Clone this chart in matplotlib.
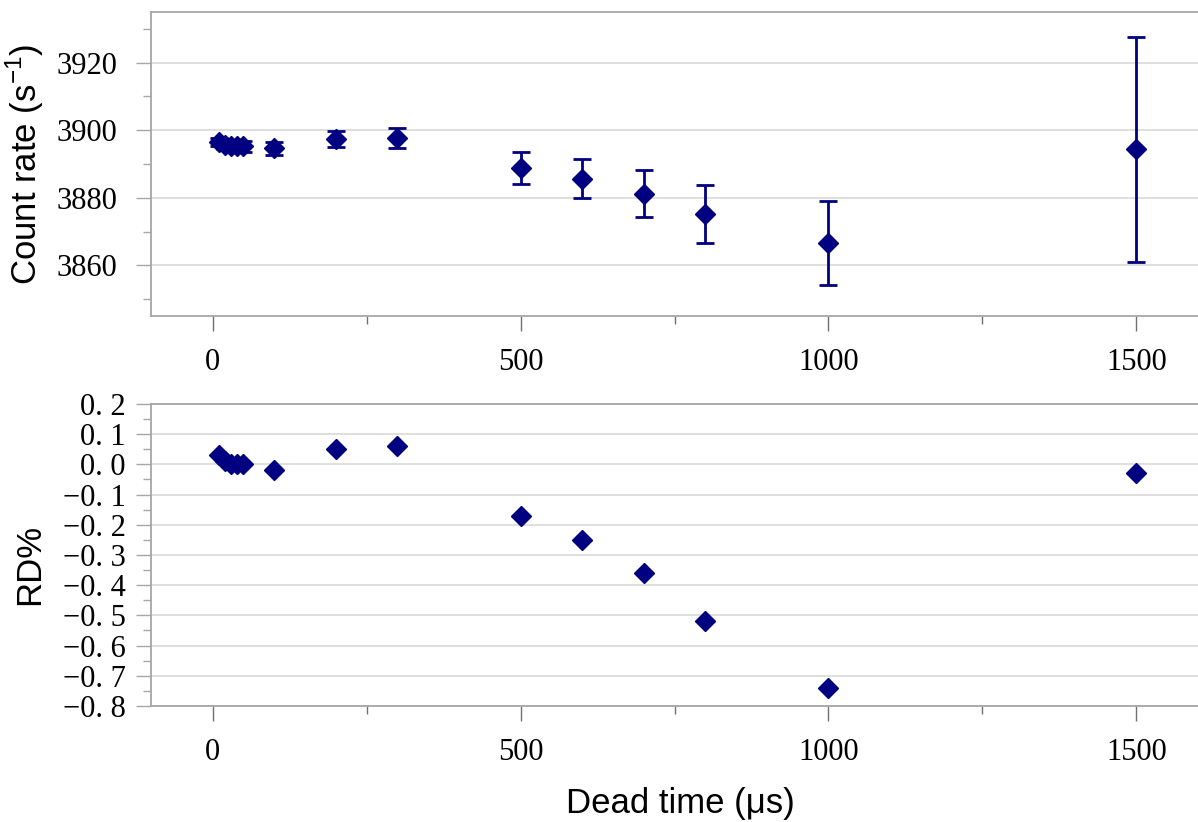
import matplotlib
matplotlib.use("Agg")
import matplotlib.pyplot as plt
from matplotlib.ticker import MultipleLocator, FixedLocator

# ---- data ----
dead_time = [10, 20, 30, 40, 50, 100, 200, 300, 500, 600, 700, 800, 1000, 1500]
count_rate = [3896.6, 3895.6, 3895.2, 3895.4, 3895.3, 3894.6, 3897.4, 3897.7,
              3888.8, 3885.7, 3881.2, 3875.2, 3866.7, 3894.3]
count_err = [1.2, 1.3, 1.4, 1.5, 1.6, 1.9, 2.4, 3.0,
             4.7, 5.9, 7.0, 8.5, 12.4, 33.2]
rd_pct = [0.03, 0.01, 0.00, 0.00, 0.00, -0.02, 0.05, 0.06,
          -0.17, -0.25, -0.36, -0.52, -0.74, -0.03]

x_ticks = [0, 500, 1000, 1500]
top_yticks = [3860, 3880, 3900, 3920]
rd_ticks = [0.2, 0.1, 0.0, -0.1, -0.2, -0.3, -0.4, -0.5, -0.6, -0.7, -0.8]
rd_labels = ["0. 2", "0. 1", "0. 0", "\u22120. 1", "\u22120. 2", "\u22120. 3",
             "\u22120. 4", "\u22120. 5", "\u22120. 6", "\u22120. 7", "\u22120. 8"]

# ---- style ----
navy = "#000080"
spine_c = "#a6a6a6"
grid_c = "#d9d9d9"
tick_font = dict(family="Liberation Serif", size=22)
label_font = dict(family="Liberation Sans", size=25)

fig = plt.figure(figsize=(11.98, 8.22), dpi=100)
W, H = 1198, 822
ax1 = fig.add_axes([151 / W, 1 - 316 / H, (W - 151) / W, (316 - 12) / H])
ax2 = fig.add_axes([151 / W, 1 - 706 / H, (W - 151) / W, (706 - 404) / H])

for ax in (ax1, ax2):
    ax.set_xlim(-100, 1600)
    ax.xaxis.set_major_locator(FixedLocator(x_ticks))
    ax.xaxis.set_minor_locator(MultipleLocator(250))
    ax.set_xticklabels([str(v) for v in x_ticks], fontdict=tick_font)
    ax.spines["right"].set_visible(False)
    for s in ("left", "bottom", "top"):
        ax.spines[s].set_color(spine_c)
        ax.spines[s].set_linewidth(1.3)
    ax.grid(axis="y", which="major", color=grid_c, linewidth=1.2, zorder=0)
    ax.set_axisbelow(True)
    ax.tick_params(axis="x", which="major", length=11, width=1.0, color="#707070", pad=12)
    ax.tick_params(axis="x", which="minor", length=6, width=1.0, color="#707070")
    ax.tick_params(axis="y", which="major", length=11, width=1.0, color=spine_c)
    ax.tick_params(axis="y", which="minor", length=6, width=1.0, color=spine_c)

# top panel
ax1.errorbar(dead_time, count_rate, yerr=count_err, fmt="D", color=navy,
             markersize=10.5, elinewidth=2.0, capsize=6.5, capthick=2.0, zorder=3)
ax1.set_ylim(3845, 3935)
ax1.yaxis.set_major_locator(FixedLocator(top_yticks))
ax1.yaxis.set_minor_locator(MultipleLocator(10))
ax1.set_yticklabels([str(v) for v in top_yticks], fontdict=tick_font)
ax1.tick_params(axis="y", which="major", pad=13)
ax1.set_ylabel("Count rate (s$^{\\mathregular{-1}}$)", fontdict=label_font)
ax1.yaxis.set_label_coords((46 - 151) / 1047, 0.5)

# bottom panel
ax2.plot(dead_time, rd_pct, "D", color=navy, markersize=10.5, zorder=3)
ax2.set_ylim(-0.8, 0.2)
ax2.yaxis.set_major_locator(FixedLocator(rd_ticks))
ax2.yaxis.set_minor_locator(MultipleLocator(0.05))
ax2.set_yticklabels(rd_labels, fontdict=tick_font)
ax2.tick_params(axis="y", which="major", pad=7)
ax2.set_ylabel("RD%", fontdict=label_font)
ax2.yaxis.set_label_coords((46 - 151) / 1047, 0.47)
ax2.set_xlabel("Dead time (\u03bcs)", fontdict=label_font)
ax2.xaxis.set_label_coords((680 - 151) / 1047, -(787 - 706) / 302)

fig.savefig("out.png", dpi=100)
